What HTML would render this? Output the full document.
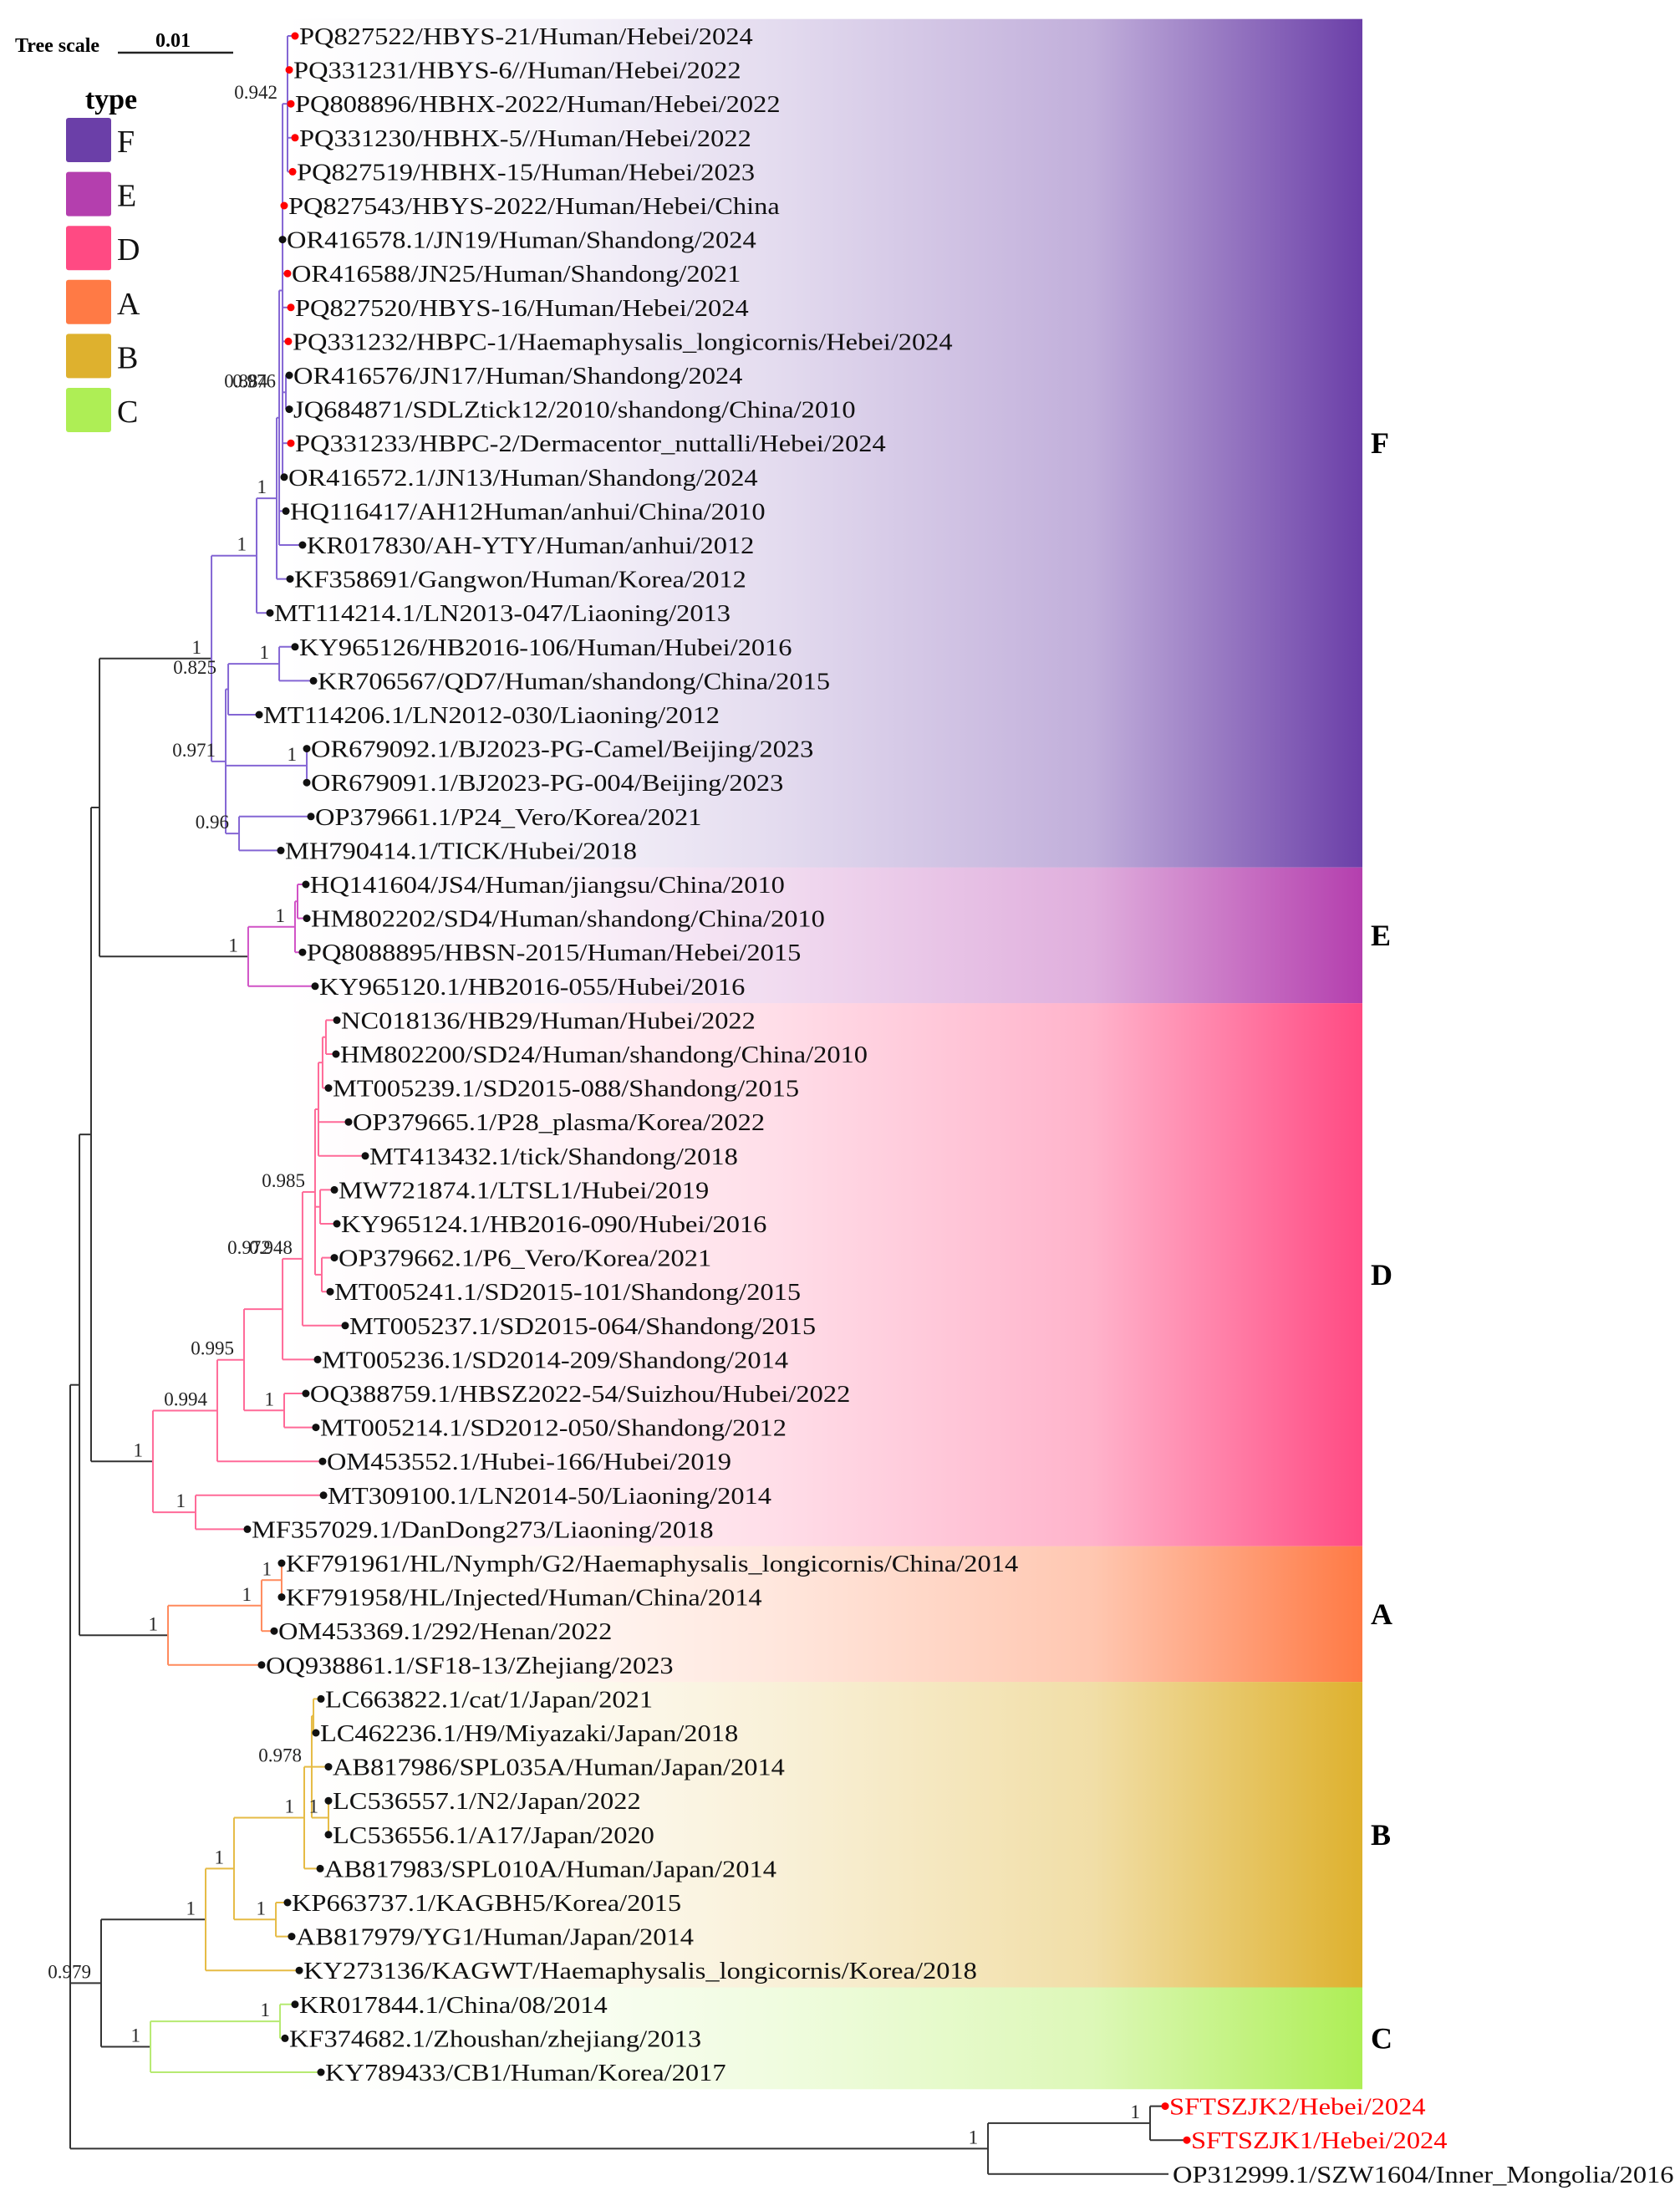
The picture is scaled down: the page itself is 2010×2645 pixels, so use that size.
<!DOCTYPE html>
<html><head><meta charset="utf-8">
<style>
html,body{margin:0;padding:0;background:#fff;}
svg{display:block;font-family:"Liberation Serif","DejaVu Serif",serif;}
</style></head>
<body>
<svg id="chart" width="2010" height="2645" viewBox="0 0 2010 2645" xmlns="http://www.w3.org/2000/svg">
<defs id="defs"></defs>
<g id="bands"></g>
<g id="branches"></g>
<g id="tips"></g>
<g id="supports"></g>
<g id="legend">
  <text x="18" y="62" font-size="24" font-weight="bold">Tree scale</text>
  <text x="207" y="56" font-size="24" font-weight="bold" text-anchor="middle">0.01</text>
  <line x1="141" y1="63" x2="279" y2="63" stroke="#222" stroke-width="2.5"/>
  <text x="133" y="130" font-size="34" font-weight="bold" text-anchor="middle">type</text>
</g>
</svg>
<script>
// ---- data ----
const tipLabels = [
"PQ827522/HBYS-21/Human/Hebei/2024","PQ331231/HBYS-6//Human/Hebei/2022","PQ808896/HBHX-2022/Human/Hebei/2022",
"PQ331230/HBHX-5//Human/Hebei/2022","PQ827519/HBHX-15/Human/Hebei/2023","PQ827543/HBYS-2022/Human/Hebei/China",
"OR416578.1/JN19/Human/Shandong/2024","OR416588/JN25/Human/Shandong/2021","PQ827520/HBYS-16/Human/Hebei/2024",
"PQ331232/HBPC-1/Haemaphysalis_longicornis/Hebei/2024","OR416576/JN17/Human/Shandong/2024","JQ684871/SDLZtick12/2010/shandong/China/2010",
"PQ331233/HBPC-2/Dermacentor_nuttalli/Hebei/2024","OR416572.1/JN13/Human/Shandong/2024","HQ116417/AH12Human/anhui/China/2010",
"KR017830/AH-YTY/Human/anhui/2012","KF358691/Gangwon/Human/Korea/2012","MT114214.1/LN2013-047/Liaoning/2013",
"KY965126/HB2016-106/Human/Hubei/2016","KR706567/QD7/Human/shandong/China/2015","MT114206.1/LN2012-030/Liaoning/2012",
"OR679092.1/BJ2023-PG-Camel/Beijing/2023","OR679091.1/BJ2023-PG-004/Beijing/2023","OP379661.1/P24_Vero/Korea/2021",
"MH790414.1/TICK/Hubei/2018",
"HQ141604/JS4/Human/jiangsu/China/2010","HM802202/SD4/Human/shandong/China/2010","PQ8088895/HBSN-2015/Human/Hebei/2015",
"KY965120.1/HB2016-055/Hubei/2016",
"NC018136/HB29/Human/Hubei/2022","HM802200/SD24/Human/shandong/China/2010","MT005239.1/SD2015-088/Shandong/2015",
"OP379665.1/P28_plasma/Korea/2022","MT413432.1/tick/Shandong/2018","MW721874.1/LTSL1/Hubei/2019",
"KY965124.1/HB2016-090/Hubei/2016","OP379662.1/P6_Vero/Korea/2021","MT005241.1/SD2015-101/Shandong/2015",
"MT005237.1/SD2015-064/Shandong/2015","MT005236.1/SD2014-209/Shandong/2014","OQ388759.1/HBSZ2022-54/Suizhou/Hubei/2022",
"MT005214.1/SD2012-050/Shandong/2012","OM453552.1/Hubei-166/Hubei/2019","MT309100.1/LN2014-50/Liaoning/2014",
"MF357029.1/DanDong273/Liaoning/2018",
"KF791961/HL/Nymph/G2/Haemaphysalis_longicornis/China/2014","KF791958/HL/Injected/Human/China/2014","OM453369.1/292/Henan/2022",
"OQ938861.1/SF18-13/Zhejiang/2023",
"LC663822.1/cat/1/Japan/2021","LC462236.1/H9/Miyazaki/Japan/2018","AB817986/SPL035A/Human/Japan/2014",
"LC536557.1/N2/Japan/2022","LC536556.1/A17/Japan/2020","AB817983/SPL010A/Human/Japan/2014",
"KP663737.1/KAGBH5/Korea/2015","AB817979/YG1/Human/Japan/2014","KY273136/KAGWT/Haemaphysalis_longicornis/Korea/2018",
"KR017844.1/China/08/2014","KF374682.1/Zhoushan/zhejiang/2013","KY789433/CB1/Human/Korea/2017",
"SFTSZJK2/Hebei/2024","SFTSZJK1/Hebei/2024","OP312999.1/SZW1604/Inner_Mongolia/2016"];
const tipParent = ["G1","G1","G1","G1","G1","G0","G0","G0","G0","G0","G2","G2","G0","G0","H","H","F1a","F1",
"F2b","F2b","F2a","F2c","F2c","F2d","F2d",
"E2","E2","E1","E",
"Dt3","Dt3","Dt2","Dt","Dt","D1f","D1f","D1g","D1g","D1d","D1b","D1c","D1c","D1","D2","D2",
"A2","A2","A1","A",
"B5","B5","B4","B6","B6","B2","B3","B3","B",
"C1","C1","C",
"O1","O1","O"];
// branch depth in units of 0.001 substitutions/site
const tipDepth = [19.49,18.99,19.13,19.49,19.28,18.55,18.41,18.84,19.13,18.91,18.99,18.99,19.13,18.55,18.70,20.14,19.06,17.32,
19.49,21.09,16.38,20.51,20.51,20.87,18.26,
20.43,20.51,20.14,21.23,
23.12,23.04,22.39,24.13,25.58,22.90,23.12,22.90,22.54,23.84,21.45,20.43,21.30,21.88,21.96,15.36,
18.33,18.33,17.68,16.59,
21.74,21.30,22.39,22.39,22.39,21.67,18.84,19.20,19.86,
19.49,18.62,21.74,
94.93,96.81,95.22];
const tipRed = [1,1,1,1,1,1,0,1,1,1,0,0,1,0,0,0,0,0,0,0,0,0,0,0,0,0,0,0,0,0,0,0,0,0,0,0,0,0,0,0,0,0,0,0,0,0,0,0,0,0,0,0,0,0,0,0,0,0,0,0,0,1,1,0];
const tipDot = [1,1,1,1,1,1,1,1,1,1,1,1,1,1,1,1,1,1,1,1,1,1,1,1,1,1,1,1,1,1,1,1,1,1,1,1,1,1,1,1,1,1,1,1,1,1,1,1,1,1,1,1,1,1,1,1,1,1,1,1,1,1,1,0];

const nodeIds    = ["root","FEDA","FED","FE","F","F1","F1a","H","G0","G1","G2","F2","F2a","F2b","F2c","F2d","E","E1","E2",
"D","D1","D1a","D1b","D1c","D1d","D1e","Dt","Dt2","Dt3","D1f","D1g","D2","A","A1","A2","BC","B","B1","B2","B3","B4","B5","B6","C","C1","O","O1"];
const nodeParent = ["","root","FEDA","FED","FE","F","F1","F1a","H","G0","G0","F","F2","F2a","F2","F2","FE","E","E1",
"FED","D","D1","D1a","D1a","D1b","D1d","D1e","Dt","Dt2","D1e","D1e","D","FEDA","A","A1","root","BC","B","B1","B1","B2","B4","B4","BC","C","root","O"];
const nodeDepth  = [0,0.80,1.81,2.54,12.25,16.16,17.90,18.12,18.41,18.84,18.70,13.48,13.70,18.12,20.51,14.64,15.43,19.49,19.71,
7.17,12.75,15.07,18.41,18.55,20.14,21.23,21.52,21.88,22.17,21.67,21.81,10.87,8.48,16.59,18.33,2.68,11.74,14.20,20.29,17.83,20.94,21.09,22.39,6.96,18.19,79.57,93.62];
const nodeClade  = ["","","","","F","F","F","F","F","F","F","F","F","F","F","F","E","E","E",
"D","D","D","D","D","D","D","D","D","D","D","D","D","A","A","A","","B","B","B","B","B","B","B","C","C","",""];

const supNode = ["G1","G2","F1a","F1","F","F2","F2b","F2c","F2d","E","E1","D","D1","D1a","D1d","D1c","D1e","D2","A","A1","A2","B","B1","B2","B3","B4","B6","C","C1","BC","O","O1"];
const supText = ["0.942","0.976","1","1","1","0.971","1","1","0.96","1","1","1","0.994","0.995","0.948","1","0.985","1","1","1","1","1","1","1","1","0.978","1","1","1","0.979","1","1"];

const cladeNames  = ["F","E","D","A","B","C"];
const cladeFirst  = [0,25,29,45,49,58];
const cladeLast   = [24,28,44,48,57,60];
const cladeColor  = ["#6b3fa8","#b43fae","#ff4a83","#ff7a45","#deb12e","#aeee55"];
const branchColor = {F:"#8466d4",E:"#d052c6",D:"#ff6a98",A:"#ff8a5c",B:"#e6bb45",C:"#b6ea72","":"#333"};

// ---- scales ----
const X0 = 84, PX_PER_UNIT = 13.8;
const xScale = d => X0 + d * PX_PER_UNIT;
const ROW0 = 43, ROWH = 40.6;
const yScale = i => ROW0 + ROWH * i;
const NS = "http://www.w3.org/2000/svg";
function mk(tag, attrs, parent){ const e=document.createElementNS(NS,tag); for(const k in attrs) e.setAttribute(k,attrs[k]); parent.appendChild(e); return e; }

// ---- layout ----
const node = {};
nodeIds.forEach((id,i)=>{ node[id]={id, parent:nodeParent[i], x:xScale(nodeDepth[i]), clade:nodeClade[i], kids:[]}; });
const tips = tipLabels.map((l,i)=>({id:"t"+i, label:l, parent:tipParent[i], x:xScale(tipDepth[i]), y:yScale(i), clade:node[tipParent[i]].clade, red:tipRed[i], dot:tipDot[i]}));
nodeIds.forEach(id=>{ const p=node[id].parent; if(p) node[p].kids.push(node[id]); });
tips.forEach(t=>node[t.parent].kids.push(t));
function yOf(n){ if(n.y!==undefined) return n.y; const ys=n.kids.map(yOf); n.y=(Math.min(...ys)+Math.max(...ys))/2; return n.y; }
yOf(node.root);

// ---- bands ----
const defs=document.getElementById('defs'), gb=document.getElementById('bands');
cladeNames.forEach((c,i)=>{
  const g=mk('linearGradient',{id:'grad'+c,x1:'340',x2:'1630',y1:'0',y2:'0',gradientUnits:'userSpaceOnUse'},defs);
  [[0,0],[0.25,0.06],[0.45,0.18],[0.75,0.42],[1,1]].forEach(s=>mk('stop',{offset:s[0],'stop-color':cladeColor[i],'stop-opacity':s[1]},g));
  const top=yScale(cladeFirst[i])-ROWH/2, bot=yScale(cladeLast[i])+ROWH/2;
  const r=mk('rect',{x:340,y:top,width:1290,height:bot-top,fill:'url(#grad'+c+')'},gb);
  
  
  const t=mk('text',{x:1640,y:(top+bot)/2+12,'font-size':36,'font-weight':'bold'},gb);
  t.textContent=c;
  
  
});

// ---- branches ----
const gbr=document.getElementById('branches');
function colOf(n){ return branchColor[n.clade||""]; }
function drawNode(n){
  if(n.parent){
    const p=node[n.parent];
    const col = (p.clade===n.clade) ? colOf(n) : branchColor[""];
    const h=mk('line',{x1:p.x,y1:n.y,x2:n.x,y2:n.y,stroke:col,'stroke-width':2},gbr);
    
    
  }
  if(n.kids && n.kids.length){
    const ys=n.kids.map(k=>k.y);
    const v=mk('line',{x1:n.x,y1:Math.min(...ys),x2:n.x,y2:Math.max(...ys),stroke:colOf(n),'stroke-width':2},gbr);
    
    
    n.kids.forEach(drawNode);
  }
}
drawNode(node.root);

// ---- tips ----
const gt=document.getElementById('tips');
tips.forEach(t=>{
  if(t.dot){
    const c=mk('circle',{cx:t.x,cy:t.y,r:4.5,fill:t.red?'#ff0000':'#111'},gt);
    
    
  }
  const tx=mk('text',{x:0,y:0,'font-size':29,fill:(t.red&&t.x>1000)?'#ff0000':'#111',
    transform:'translate('+(t.x+5)+','+(t.y+10)+') scale(1.12,1)'},gt);
  tx.textContent=t.label;
  
  
});

// ---- supports ----
const gs=document.getElementById('supports');
supNode.forEach((id,i)=>{
  const n=node[id];
  const t=mk('text',{x:n.x-12,y:n.y-6,'font-size':23,'text-anchor':'end',fill:'#222'},gs);
  t.textContent=supText[i];
  
  
});
const extra=[["0.884","G2",-22,-6],["0.825","F",6,18],["0.972","D1d",-38,-6]];
extra.forEach(e=>{
  const n=node[e[1]];
  const t=mk('text',{x:n.x+e[2],y:n.y+e[3],'font-size':23,'text-anchor':'end',fill:'#222'},gs);
  t.textContent=e[0];
  
  
});

// ---- legend ----
const gl=document.getElementById('legend');
cladeNames.forEach((c,i)=>{
  const y=141+64.6*i;
  const r=mk('rect',{x:79,y:y,width:54,height:53,rx:3,fill:cladeColor[i]},gl);
  
  
  const t=mk('text',{x:140,y:y+41,'font-size':38,fill:'#111'},gl);
  t.textContent=c;
  
  
});
</script>
</body></html>
